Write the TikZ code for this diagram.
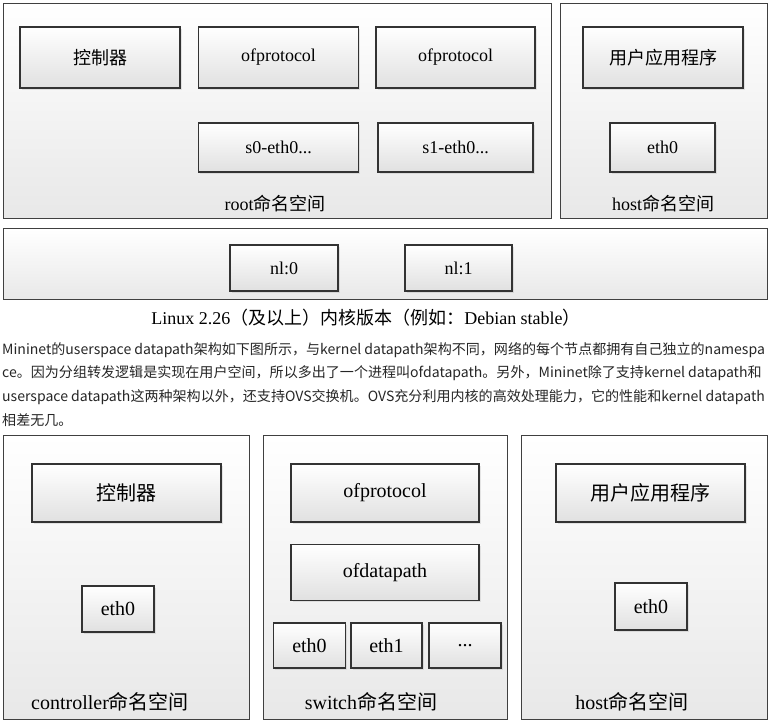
\documentclass[tikz,border=0pt]{standalone}
\usepackage{fontspec}
\setmainfont{Liberation Serif}
\newfontfamily\cjk{Noto Sans CJK SC}
\newcommand{\zh}[1]{{\cjk #1}}
\usetikzlibrary{shadows}

\begin{document}
\begin{tikzpicture}[%
      x=1pt, y=-1pt,
      ns/.style={draw=black!75, line width=1pt, top color=white, bottom color=black!9, inner sep=0pt},
      unit/.style={draw=black!80, line width=1.2pt, top color=white, bottom color=black!12,
        drop shadow={opacity=0.18, shadow xshift=1.5pt, shadow yshift=-1.5pt}, inner sep=0pt},
      smalltxt/.style={font=\fontsize{18}{20}\selectfont},
      bigtxt/.style={font=\fontsize{20}{22}\selectfont},
      para/.style={font=\cjk\fontsize{14.05}{16}\selectfont, anchor=west, inner sep=0pt, text=black!85},
      ]
      \useasboundingbox (0,0) rectangle (770,723);
      \clip (0,0) rectangle (770,723);

      % upper picture: kernel datapath
      \node[ns, minimum width=548, minimum height=215] (rootns) at (277,110.5) {};
      \node[ns, minimum width=207, minimum height=215] (hostns) at (663.5,110.5) {};
      \node[ns, minimum width=764, minimum height=71] (kernel) at (385,264) {};

      \node[unit, smalltxt, minimum width=160, minimum height=61] (ctrl) at (100,57.5) {\zh{控制器}};
      \node[unit, smalltxt, minimum width=160, minimum height=61] (ofpa) at (278.5,57.5) {ofprotocol};
      \node[unit, smalltxt, minimum width=159, minimum height=61] (ofpb) at (455.5,57.5) {ofprotocol};
      \node[unit, smalltxt, minimum width=160, minimum height=49] (szero) at (278.5,147.5) {s0-eth0...};
      \node[unit, smalltxt, minimum width=155, minimum height=49] (sone) at (455.5,147.5) {s1-eth0...};
      \node[smalltxt] (rootlbl) at (275,204) {root\zh{命名空间}};

      \node[unit, smalltxt, minimum width=160, minimum height=61] (app) at (663,57.5) {\zh{用户应用程序}};
      \node[unit, smalltxt, minimum width=105, minimum height=49] (heth) at (662.5,147.5) {eth0};
      \node[smalltxt] (hostlbl) at (663,204) {host\zh{命名空间}};

      \node[unit, smalltxt, minimum width=108, minimum height=46] (nlzero) at (284,268) {nl:0};
      \node[unit, smalltxt, minimum width=107, minimum height=46] (nlone) at (458.5,268) {nl:1};

      \node[font=\fontsize{18}{20}\selectfont] (caption) at (366,318)
        {Linux 2.26\zh{（及以上）内核版本（例如：}Debian stable\zh{）}};

      % text between the pictures
      \node[para] (lineA) at (2,350) {Mininet的userspace datapath架构如下图所示，与kernel datapath架构不同，网络的每个节点都拥有自己独立的namespa};
      \node[para] (lineB) at (2,373.5) {ce。因为分组转发逻辑是实现在用户空间，所以多出了一个进程叫ofdatapath。另外，Mininet除了支持kernel datapath和};
      \node[para] (lineC) at (2,397) {userspace datapath这两种架构以外，还支持OVS交换机。OVS充分利用内核的高效处理能力，它的性能和kernel datapath};
      \node[para] (lineD) at (2,420.5) {相差无几。};

      % lower picture: userspace datapath
      \node[ns, minimum width=246, minimum height=284] (ctrlns) at (126,577) {};
      \node[ns, minimum width=244, minimum height=284] (swns) at (385,577) {};
      \node[ns, minimum width=246, minimum height=284] (hostnsb) at (644,577) {};

      \node[unit, bigtxt, minimum width=189, minimum height=58] (ctrlb) at (126.5,493) {\zh{控制器}};
      \node[unit, bigtxt, minimum width=72, minimum height=46] (cethb) at (118,609) {eth0};
      \node[bigtxt, anchor=west, inner sep=0pt] (ctrllbl) at (31,702) {controller\zh{命名空间}};

      \node[unit, bigtxt, minimum width=188, minimum height=58] (ofpc) at (385,493) {ofprotocol};
      \node[unit, bigtxt, minimum width=188, minimum height=56] (ofdp) at (385,572.5) {ofdatapath};
      \node[unit, bigtxt, minimum width=72, minimum height=45] (swethz) at (309.5,645.5) {eth0};
      \node[unit, bigtxt, minimum width=71, minimum height=45] (swetho) at (386.5,645.5) {eth1};
      \node[unit, bigtxt, minimum width=72, minimum height=45] (swethn) at (465,645.5) {...};
      \node[bigtxt] (swlbl) at (371,702) {switch\zh{命名空间}};

      \node[unit, bigtxt, minimum width=189, minimum height=58] (appb) at (650.5,493) {\zh{用户应用程序}};
      \node[unit, bigtxt, minimum width=72, minimum height=47] (hethb) at (651,606.5) {eth0};
      \node[bigtxt] (hostlblb) at (632,702) {host\zh{命名空间}};
\end{tikzpicture}
\end{document}
